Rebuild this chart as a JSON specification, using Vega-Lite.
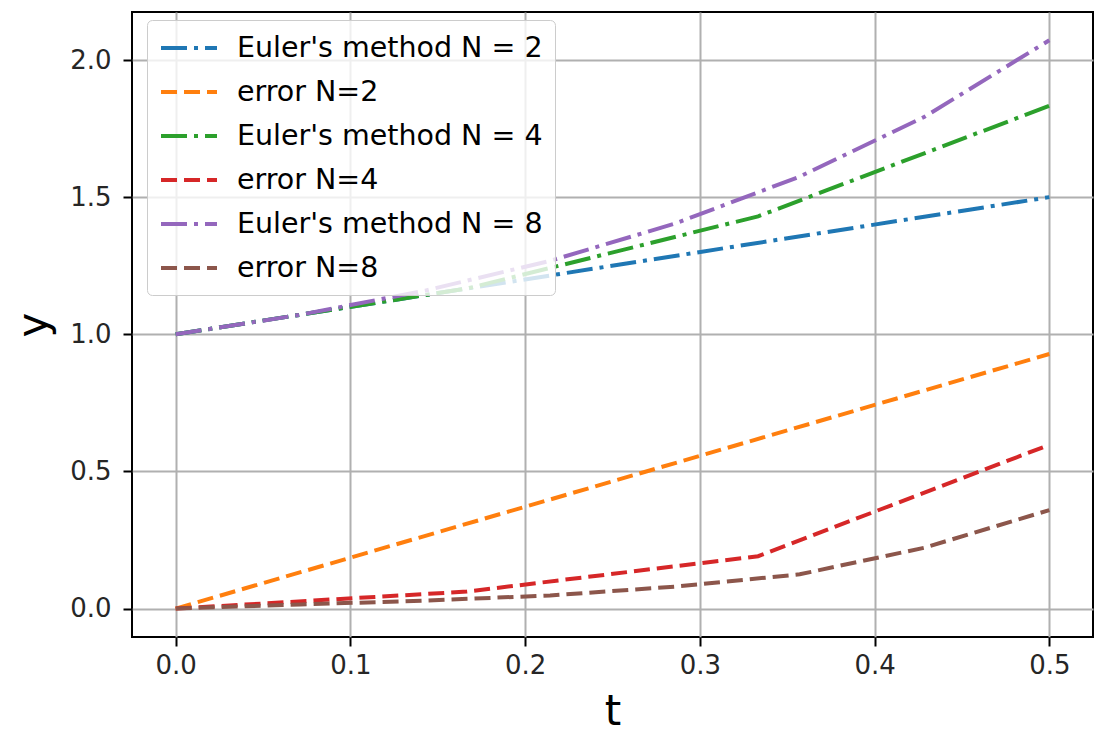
{
  "$schema": "https://vega.github.io/schema/vega-lite/v6.json",
  "width": 961,
  "height": 625,
  "autosize": {"type": "none"},
  "padding": {"left": 132, "top": 12, "right": 4, "bottom": 98},
  "background": "#ffffff",
  "config": {
    "font": "DejaVu Sans",
    "view": {"stroke": "#000000", "strokeWidth": 2},
    "axis": {
      "domain": false,
      "grid": true,
      "gridColor": "#b0b0b0",
      "gridWidth": 2,
      "ticks": true,
      "tickColor": "#000000",
      "tickWidth": 2,
      "tickSize": 9,
      "labelFont": "DejaVu Sans",
      "labelFontSize": 26,
      "labelColor": "#262626",
      "titleFont": "DejaVu Sans",
      "titleFontSize": 42,
      "titleFontWeight": "normal",
      "titleColor": "#000000"
    },
    "legend": {
      "labelFont": "DejaVu Sans",
      "labelFontSize": 28.5,
      "labelColor": "#000000",
      "labelLimit": 0
    }
  },
  "data": {
    "values": [
      {"series": "Euler's method N = 2", "t": 0, "y": 1},
      {"series": "Euler's method N = 2", "t": 0.5, "y": 1.5},
      {"series": "error N=2", "t": 0, "y": 0},
      {"series": "error N=2", "t": 0.5, "y": 0.928},
      {"series": "Euler's method N = 4", "t": 0, "y": 1},
      {"series": "Euler's method N = 4", "t": 0.166667, "y": 1.1667},
      {"series": "Euler's method N = 4", "t": 0.333333, "y": 1.43},
      {"series": "Euler's method N = 4", "t": 0.5, "y": 1.833},
      {"series": "error N=4", "t": 0, "y": 0},
      {"series": "error N=4", "t": 0.166667, "y": 0.062},
      {"series": "error N=4", "t": 0.333333, "y": 0.191},
      {"series": "error N=4", "t": 0.5, "y": 0.597},
      {"series": "Euler's method N = 8", "t": 0, "y": 1},
      {"series": "Euler's method N = 8", "t": 0.071429, "y": 1.0714},
      {"series": "Euler's method N = 8", "t": 0.142857, "y": 1.1593},
      {"series": "Euler's method N = 8", "t": 0.214286, "y": 1.2679},
      {"series": "Euler's method N = 8", "t": 0.285714, "y": 1.4036},
      {"series": "Euler's method N = 8", "t": 0.357143, "y": 1.575},
      {"series": "Euler's method N = 8", "t": 0.428571, "y": 1.7929},
      {"series": "Euler's method N = 8", "t": 0.5, "y": 2.072},
      {"series": "error N=8", "t": 0, "y": 0},
      {"series": "error N=8", "t": 0.071429, "y": 0.015},
      {"series": "error N=8", "t": 0.142857, "y": 0.029},
      {"series": "error N=8", "t": 0.214286, "y": 0.048},
      {"series": "error N=8", "t": 0.285714, "y": 0.08},
      {"series": "error N=8", "t": 0.357143, "y": 0.125},
      {"series": "error N=8", "t": 0.428571, "y": 0.222},
      {"series": "error N=8", "t": 0.5, "y": 0.359}
    ]
  },
  "mark": {"type": "line", "strokeWidth": 4, "clip": true},
  "encoding": {
    "x": {
      "field": "t",
      "type": "quantitative",
      "scale": {"domain": [-0.025, 0.525], "nice": false, "zero": false},
      "axis": {
        "values": [0, 0.1, 0.2, 0.3, 0.4, 0.5],
        "format": ".1f",
        "labelPadding": 6,
        "title": "t",
        "titlePadding": 13
      }
    },
    "y": {
      "field": "y",
      "type": "quantitative",
      "scale": {"domain": [-0.1036, 2.175], "nice": false, "zero": false},
      "axis": {
        "values": [0, 0.5, 1, 1.5, 2],
        "format": ".1f",
        "labelPadding": 12,
        "title": "y",
        "titlePadding": 14
      }
    },
    "color": {
      "field": "series",
      "type": "nominal",
      "sort": null,
      "scale": {
        "domain": ["Euler's method N = 2", "error N=2", "Euler's method N = 4", "error N=4", "Euler's method N = 8", "error N=8"],
        "range": ["#1f77b4", "#ff7f0e", "#2ca02c", "#d62728", "#9467bd", "#8c564b"]
      },
      "legend": {
        "orient": "none",
        "legendX": 15,
        "legendY": 8,
        "title": null,
        "symbolType": "M-1,0H3",
        "symbolSize": 784,
        "symbolStrokeWidth": 4,
        "rowPadding": 13,
        "labelOffset": 46,
        "padding": 12,
        "strokeColor": "#cccccc",
        "fillColor": "rgba(255,255,255,0.8)",
        "cornerRadius": 5
      }
    },
    "strokeDash": {
      "field": "series",
      "type": "nominal",
      "sort": null,
      "scale": {
        "domain": ["Euler's method N = 2", "error N=2", "Euler's method N = 4", "error N=4", "Euler's method N = 8", "error N=8"],
        "range": [[26, 7, 4, 7], [16, 7], [26, 7, 4, 7], [16, 7], [26, 7, 4, 7], [16, 7]]
      },
      "legend": {
        "orient": "none",
        "legendX": 15,
        "legendY": 8,
        "title": null,
        "symbolType": "M-1,0H3",
        "symbolSize": 784,
        "symbolStrokeWidth": 4,
        "rowPadding": 13,
        "labelOffset": 46,
        "padding": 12,
        "strokeColor": "#cccccc",
        "fillColor": "rgba(255,255,255,0.8)",
        "cornerRadius": 5
      }
    }
  }
}
